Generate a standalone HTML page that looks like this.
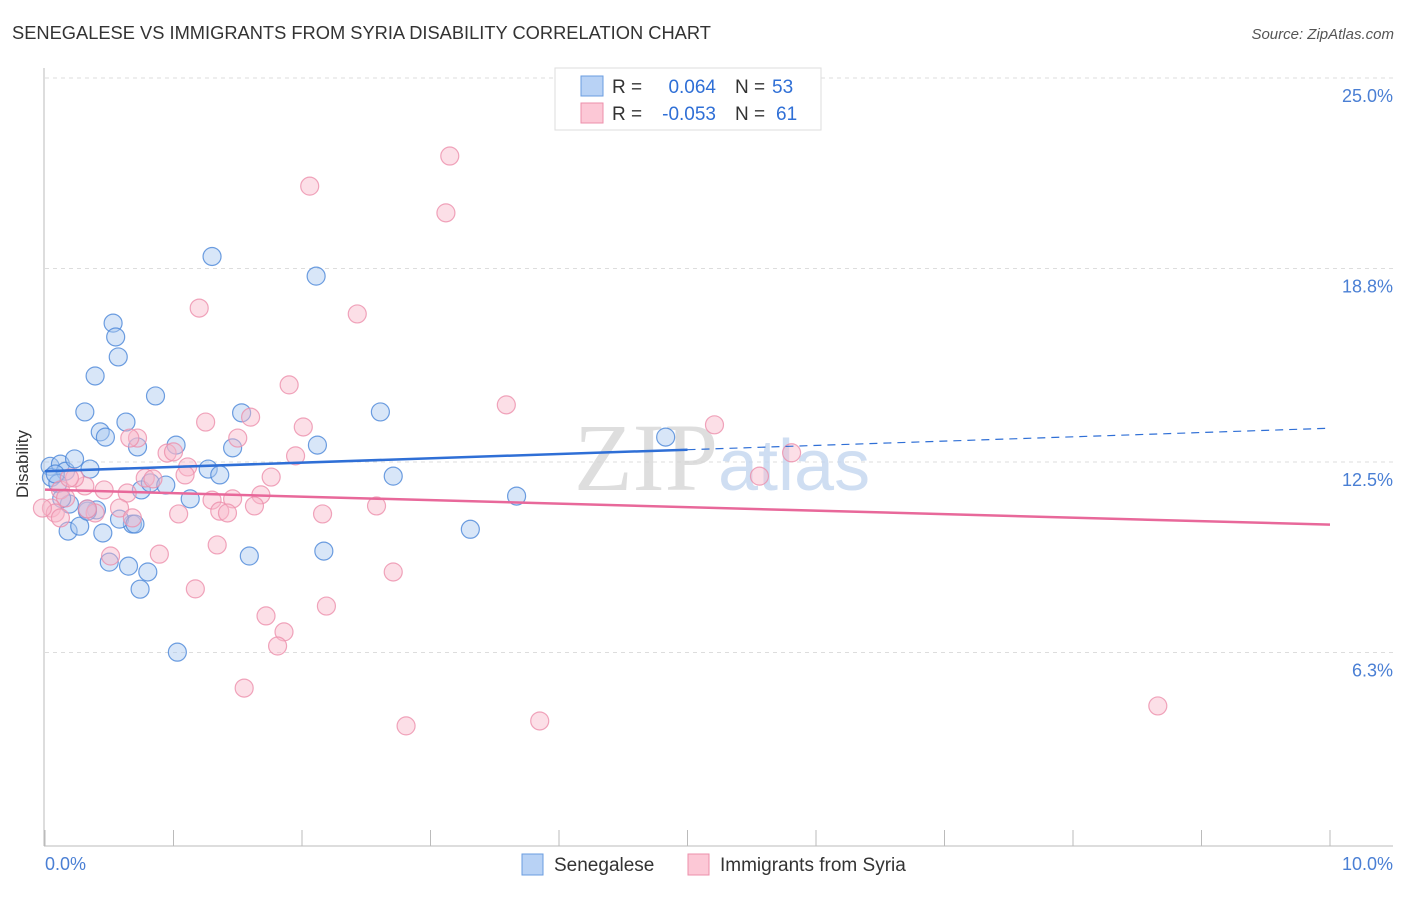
<!DOCTYPE html>
<html><head><meta charset="utf-8"><style>
body{margin:0;background:#fff;font-family:"Liberation Sans",sans-serif}
</style></head><body>
<svg width="1406" height="892" xmlns="http://www.w3.org/2000/svg" font-family="Liberation Sans, sans-serif">
<text x="12" y="39" font-size="18.3" fill="#333">SENEGALESE VS IMMIGRANTS FROM SYRIA DISABILITY CORRELATION CHART</text>
<text x="1394" y="39" font-size="15" fill="#555" font-style="italic" text-anchor="end">Source: ZipAtlas.com</text>
<g id="grid"></g>
<line x1="44" y1="68" x2="44" y2="846" stroke="#bbb"/>
<line x1="44" y1="846" x2="1393" y2="846" stroke="#bbb"/>
<text x="20" y="456" font-size="17" fill="#333" transform="rotate(-90 28 456)" text-anchor="middle">Disability</text>
<text x="45" y="870" font-size="18" fill="#4a7fd4">0.0%</text>
<text x="1393" y="870" font-size="18" fill="#4a7fd4" text-anchor="end">10.0%</text>
<text x="718" y="490" font-size="96" fill="#d6d6d6" font-family="Liberation Serif, serif" text-anchor="end" opacity="0.8">ZIP</text>
<text x="718" y="490" font-size="72" fill="#c4d6f0" opacity="0.8">atlas</text>
<g id="marks"></g>
<g>
<rect x="555" y="68" width="266" height="62" fill="#fff" stroke="#ddd"/>
<rect x="581" y="76" width="22" height="20" fill="#b8d2f5" stroke="#6a9ce0"/>
<rect x="581" y="103" width="22" height="20" fill="#fcc8d6" stroke="#ec8fab"/>
<text x="612" y="93" font-size="19" fill="#333">R =</text>
<text x="716" y="93" font-size="19" fill="#2f6fd6" text-anchor="end">0.064</text>
<text x="735" y="93" font-size="19" fill="#333">N =</text>
<text x="772" y="93" font-size="19" fill="#2f6fd6">53</text>
<text x="612" y="120" font-size="19" fill="#333">R =</text>
<text x="716" y="120" font-size="19" fill="#2f6fd6" text-anchor="end">-0.053</text>
<text x="735" y="120" font-size="19" fill="#333">N =</text>
<text x="776" y="120" font-size="19" fill="#2f6fd6">61</text>
</g>
<g>
<rect x="522" y="854" width="21" height="21" fill="#b8d2f5" stroke="#6a9ce0"/>
<text x="554" y="871" font-size="19" fill="#333">Senegalese</text>
<rect x="688" y="854" width="21" height="21" fill="#fcc8d6" stroke="#ec8fab"/>
<text x="720" y="871" font-size="19" fill="#333">Immigrants from Syria</text>
</g>
</svg>
<script>
const yTicks=[25.0,18.8,12.5,6.3];
const yTickLabels=["25.0%","18.8%","12.5%","6.3%"];
const xTicks=[0,1,2,3,4,5,6,7,8,9,10];
const senX=[0.04,0.05,0.12,0.16,0.23,0.35,0.1,0.19,0.18,0.27,0.4,0.45,0.33,0.5,0.65,0.74,0.8,0.68,0.58,0.75,0.82,0.53,0.55,0.57,0.39,0.31,0.43,0.47,0.63,0.86,0.72,1.02,1.13,0.94,1.27,1.36,1.46,1.53,1.3,2.11,2.12,2.17,1.59,1.03,2.61,2.71,3.31,3.67,4.83,0.33,0.7,0.08,0.13];
const senY=[12.36,12.0,12.43,12.2,12.6,12.27,11.8,11.13,10.25,10.41,10.94,10.19,10.9,9.24,9.11,8.36,8.92,10.48,10.64,11.59,11.82,17.02,16.57,15.92,15.3,14.13,13.48,13.31,13.8,14.65,12.99,13.05,11.3,11.75,12.27,12.08,12.96,14.1,19.19,18.55,13.05,9.6,9.44,6.31,14.13,12.04,10.31,11.39,13.31,10.97,10.48,12.11,11.31];
const syrX=[3.15,2.06,3.12,1.2,2.43,1.9,3.59,5.21,1.5,2.01,1.25,1.6,0.72,0.95,1.0,1.11,1.76,1.95,5.81,5.56,1.09,1.68,1.46,1.3,1.63,1.36,1.42,2.16,2.58,1.04,0.46,0.64,0.12,0.31,0.23,0.16,0.05,0.08,0.39,0.58,0.68,0.78,0.84,0.51,0.89,1.34,1.17,2.71,2.19,1.72,1.86,1.81,1.55,2.81,3.85,8.66,0.33,0.66,0.12,-0.02,0.19];
const syrY=[22.46,21.48,20.61,17.51,17.32,15.01,14.36,13.71,13.28,13.64,13.8,13.96,13.28,12.79,12.83,12.34,12.01,12.7,12.8,12.04,12.08,11.43,11.3,11.26,11.07,10.9,10.84,10.81,11.07,10.81,11.59,11.49,11.59,11.72,11.98,11.33,11.0,10.84,10.84,11.0,10.68,11.98,11.95,9.44,9.5,9.8,8.37,8.92,7.81,7.49,6.97,6.51,5.14,3.91,4.07,4.56,10.97,13.28,10.68,11.0,11.98];
const senLine=[12.2,12.9,13.6];
const syrLine=[11.6,10.46];
const X=v=>45+v/10*1285, Y=v=>846-v/25*768;
const NS="http://www.w3.org/2000/svg";
const grid=document.getElementById('grid'),marks=document.getElementById('marks');
function mk(t,a,p){const e=document.createElementNS(NS,t);for(const k in a)e.setAttribute(k,a[k]);(p||marks).appendChild(e);return e;}
yTicks.forEach((v,i)=>{
 const l=mk('line',{x1:45,x2:1393,y1:Y(v),y2:Y(v),stroke:'#ddd','stroke-dasharray':'4,4'},grid);
 
 
 const t=mk('text',{x:1393,y:Y(v)+24,'font-size':18,fill:'#4a7fd4','text-anchor':'end'},grid);
 t.textContent=yTickLabels[i];
 
 
});
xTicks.forEach(v=>{
 const l=mk('line',{x1:X(v),x2:X(v),y1:830,y2:846,stroke:'#bbb'},grid);
 
 
});
function dots(xs,ys,fill,stroke,name){xs.forEach((x,i)=>{
 const c=mk('circle',{cx:X(x),cy:Y(ys[i]),r:9,fill:fill,'fill-opacity':0.45,stroke:stroke,'stroke-width':1.2,'stroke-opacity':0.8});
 
 
});}
dots(senX,senY,'#a9c8f0','#4a86d8','senegalese-point');
dots(syrX,syrY,'#f8b8ca','#ec8fab','syria-point');
let l1=mk('line',{x1:X(0),y1:Y(senLine[0]),x2:X(5),y2:Y(senLine[1]),stroke:'#2f6fd6','stroke-width':2.5});


let l2=mk('line',{x1:X(5),y1:Y(senLine[1]),x2:X(10),y2:Y(senLine[2]),stroke:'#2f6fd6','stroke-width':1.2,'stroke-dasharray':'8,6'});


let l3=mk('line',{x1:X(0),y1:Y(syrLine[0]),x2:X(10),y2:Y(syrLine[1]),stroke:'#e8689a','stroke-width':2.5});


</script>
</body></html>
